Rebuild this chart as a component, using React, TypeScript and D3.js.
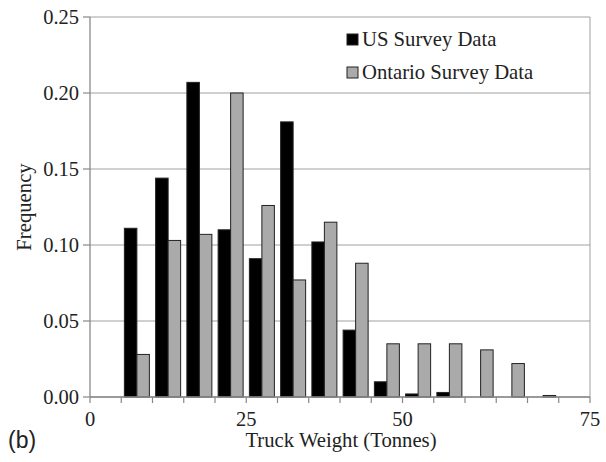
import React from "react";
import * as d3 from "d3";

const categories = ["b0","b1","b2","b3","b4","b5","b6","b7","b8","b9","b10","b11","b12","b13","b14","b15"];
const usSurvey = [0, 0.111, 0.144, 0.207, 0.110, 0.091, 0.181, 0.102, 0.044, 0.010, 0.002, 0.003, 0, 0, 0, 0];
const ontarioSurvey = [0, 0.028, 0.103, 0.107, 0.200, 0.126, 0.077, 0.115, 0.088, 0.035, 0.035, 0.035, 0.031, 0.022, 0.001, 0];
const seriesNames = ["US Survey Data", "Ontario Survey Data"];
const seriesColors = ["#000000", "#aaaaaa"];
const xTickLabels = ["0", "25", "50", "75"];
const xTickIndex = [0, 5, 10, 16];
const yTicks = [0, 0.05, 0.1, 0.15, 0.2, 0.25];

const W = 606, H = 462;
const L = 90, R = 590, T = 17, B = 397;
const serif = "'Liberation Serif', 'Times New Roman', serif";

export default function App() {
  const x = d3.scaleBand<string>().domain(categories).range([L, R]).paddingInner(0.2).paddingOuter(0.1);
  const sub = d3.scaleBand<string>().domain(seriesNames).range([0, x.bandwidth()]);
  const y = d3.scaleLinear().domain([0, 0.25]).range([B, T]);
  const step = x.step();
  const boundaries = d3.range(categories.length + 1).map((i) => L + i * step);
  const series = [usSurvey, ontarioSurvey];

  return (
    <svg width={W} height={H} style={{ position: "absolute", left: 0, top: 0, background: "#fff" }}>
      {yTicks.map((t) => (
        <line key={"g" + t} x1={L} x2={R} y1={y(t)} y2={y(t)} stroke="#a0a0a0" strokeWidth={1} />
      ))}
      <line x1={R} x2={R} y1={T} y2={B} stroke="#a0a0a0" strokeWidth={1} />
      {series.map((vals, si) =>
        vals.map((v, i) =>
          v > 0 ? (
            <rect
              key={si + "-" + i}
              x={(x(categories[i]) as number) + (sub(seriesNames[si]) as number)}
              y={y(v)}
              width={sub.bandwidth()}
              height={B - y(v)}
              fill={seriesColors[si]}
              stroke="#222"
              strokeWidth={1}
            />
          ) : null
        )
      )}
      <line x1={L} x2={L} y1={T} y2={B} stroke="#888" strokeWidth={1.3} />
      <line x1={L} x2={R} y1={B} y2={B} stroke="#888" strokeWidth={1.3} />
      {yTicks.map((t) => (
        <g key={"yt" + t}>
          <line x1={L - 7} x2={L} y1={y(t)} y2={y(t)} stroke="#888" strokeWidth={1.2} />
          <text x={L - 11} y={y(t)} dy="0.35em" textAnchor="end" fontFamily={serif} fontSize={20.5} fill="#222">
            {d3.format(".2f")(t)}
          </text>
        </g>
      ))}
      {boundaries.map((bx, i) => (
        <line key={"xt" + i} x1={bx} x2={bx} y1={B} y2={B + 6} stroke="#888" strokeWidth={1.2} />
      ))}
      {xTickLabels.map((lab, i) => (
        <text key={"xl" + lab} x={boundaries[xTickIndex[i]]} y={426} textAnchor="middle" fontFamily={serif} fontSize={20.5} fill="#222">
          {lab}
        </text>
      ))}
      <text x={341} y={447} textAnchor="middle" fontFamily={serif} fontSize={20.7} fill="#222">
        Truck Weight (Tonnes)
      </text>
      <text transform={`translate(31,${(T + B) / 2}) rotate(-90)`} textAnchor="middle" fontFamily={serif} fontSize={20.7} fill="#222">
        Frequency
      </text>
      <text x={8} y={448} fontFamily="'Liberation Sans', Arial, sans-serif" fontSize={23} fill="#222">
        (b)
      </text>
      {seriesNames.map((n, i) => (
        <g key={"lg" + n}>
          <rect x={347} y={34 + i * 33} width={11} height={11} fill={seriesColors[i]} stroke="#222" strokeWidth={1} />
          <text x={362} y={46 + i * 33} fontFamily={serif} fontSize={20.7} fill="#222">
            {n}
          </text>
        </g>
      ))}
    </svg>
  );
}
